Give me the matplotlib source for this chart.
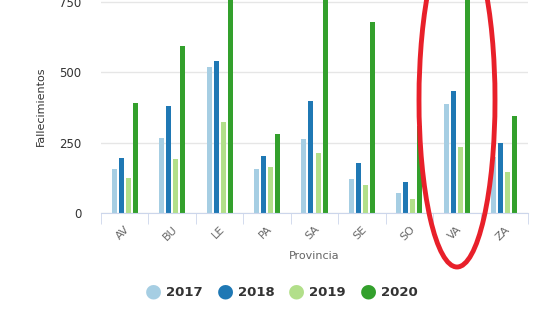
import numpy as np
import matplotlib
matplotlib.use("Agg")
import matplotlib.pyplot as plt
from matplotlib.patches import Ellipse

provincias = ["AV", "BU", "LE", "PA", "SA", "SE", "SO", "VA", "ZA"]
years = ["2017", "2018", "2019", "2020"]
deaths_2017 = [156, 268, 519, 156, 263, 121, 71, 387, 200]
deaths_2018 = [197, 380, 540, 203, 398, 178, 110, 434, 248]
deaths_2019 = [124, 192, 323, 164, 213, 100, 50, 236, 146]
deaths_2020 = [391, 594, 900, 281, 850, 678, 310, 950, 345]
colors = ["#a6cee3", "#1f78b4", "#b2df8a", "#33a02c"]

series = [deaths_2017, deaths_2018, deaths_2019, deaths_2020]

fig = plt.figure(figsize=(5.56, 3.13), dpi=100)
ax = fig.add_axes([101 / 556, 1 - 213 / 313, 427 / 556, 213 / 313])

x = np.arange(len(provincias))
bar_w = 0.105
step = 0.148
offsets = (np.arange(4) - 1.5) * step
for vals, off, col in zip(series, offsets, colors):
    ax.bar(x + off, vals, width=bar_w, color=col, zorder=3)

ax.set_xlim(-0.5, len(provincias) - 0.5)
ax.set_ylim(0, 757)
ax.set_yticks([0, 250, 500, 750])
ax.grid(axis="y", color="#e6e6e6", linewidth=1, zorder=0)
for s in ["top", "right", "left"]:
    ax.spines[s].set_visible(False)
ax.spines["bottom"].set_color("#ccd6eb")
ax.spines["bottom"].set_zorder(4)

ax.set_xticks(x)
ax.set_xticklabels(provincias, rotation=45, ha="right", va="top",
                   rotation_mode="anchor", color="#666666", fontsize=8)
ax.tick_params(axis="x", length=0, pad=8)
ax.set_xticks(np.arange(len(provincias) + 1) - 0.5, minor=True)
ax.tick_params(axis="x", which="minor", length=8, color="#ccd6eb")
ax.tick_params(axis="y", length=0, pad=14, labelcolor="#333333", labelsize=8.5)

ax.set_ylabel("Fallecimientos", fontsize=8, color="#333333", labelpad=10)
ax.set_xlabel("Provincia", fontsize=8, color="#666666", labelpad=6)

# legend: circle markers + bold year labels
leg_x = [153, 225, 296, 368]
for lx, yr, col in zip(leg_x, years, colors):
    fig.text(lx / 556, 1 - 291 / 313, "\u25CF", color=col, fontsize=14,
             ha="center", va="center")
    fig.text((lx + 13) / 556, 1 - 292 / 313, yr, color="#333333", fontsize=9.5,
             fontweight="bold", ha="left", va="center")

# red hand-drawn ellipse around VA
ell = Ellipse((457 / 556, 1 - 100 / 313), 76 / 556, 334 / 313,
              transform=fig.transFigure, fill=False, edgecolor="#e8202a",
              linewidth=3.5, zorder=10)
fig.patches.append(ell)

fig.savefig("out.png", dpi=100)
